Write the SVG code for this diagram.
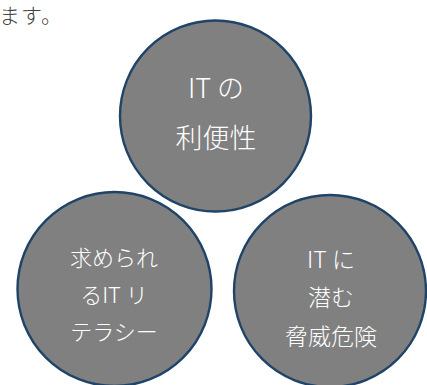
<svg xmlns="http://www.w3.org/2000/svg" width="427" height="385" viewBox="0 0 427 385">
<style>
.c{fill:#808080;stroke:#1f4467;stroke-width:2.4}
.t{fill:#ffffff;font-family:"Noto Sans CJK JP","Noto Sans",sans-serif;font-weight:300;text-anchor:middle}
.p{fill:#404040;font-family:"Noto Sans CJK JP","Noto Sans",sans-serif;font-weight:300}
</style>
<rect width="427" height="385" fill="#ffffff"/>
<text class="p" x="-1" y="23" font-size="21" letter-spacing="1">ます。</text>
<g id="top">
<circle class="c" cx="215.5" cy="116" r="95.5"/>
<text class="t" font-size="27"><tspan x="216" y="98">IT の</tspan><tspan x="216" y="148">利便性</tspan></text>
</g>
<g id="left">
<circle class="c" cx="114.5" cy="289" r="97"/>
<text class="t" font-size="22"><tspan x="114" y="266">求められ</tspan><tspan x="114" y="303">るIT リ</tspan><tspan x="114" y="340">テラシー</tspan></text>
</g>
<g id="right">
<circle class="c" cx="330" cy="291" r="96"/>
<text class="t" font-size="23"><tspan x="331" y="268">IT に</tspan><tspan x="331" y="306">潜む</tspan><tspan x="331" y="345">脅威危険</tspan></text>
</g>
<g id="connectors"/>
</svg>
